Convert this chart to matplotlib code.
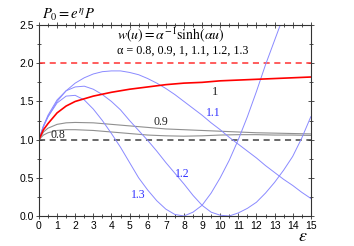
import matplotlib
matplotlib.use("Agg")
from matplotlib import pyplot as plt
from matplotlib.ticker import MultipleLocator

plt.rcParams["mathtext.fontset"] = "stix"
plt.rcParams["font.family"] = ["Liberation Sans", "DejaVu Sans"]

# values
eps_blue = [0, 0.25, 0.5, 1, 1.5, 2, 2.5, 3, 3.5, 4, 4.5, 5, 5.5, 6, 6.5, 7, 7.5, 8, 8.5, 9, 9.5,
            10, 10.5, 11, 11.5, 12, 12.5, 13, 13.5, 14, 14.5, 15]
p_11 = [1.0, 1.17, 1.3, 1.5, 1.64, 1.74, 1.81, 1.86, 1.89, 1.9, 1.9, 1.88, 1.85, 1.8, 1.74, 1.67,
        1.59, 1.5, 1.41, 1.32, 1.22, 1.13, 1.03, 0.94, 0.85, 0.76, 0.66, 0.57, 0.48, 0.4, 0.31, 0.23]
p_12 = [1.0, 1.18, 1.32, 1.52, 1.64, 1.69, 1.7, 1.66, 1.59, 1.5, 1.39, 1.25, 1.12, 0.99, 0.85, 0.7,
        0.56, 0.42, 0.27, 0.14, 0.05, 0.01, 0.0, 0.04, 0.1, 0.18, 0.3, 0.44, 0.6, 0.78, 1.02, 1.3]
p_13 = [1.0, 1.18, 1.3, 1.48, 1.57, 1.58, 1.52, 1.4, 1.25, 1.08, 0.9, 0.7, 0.5, 0.34, 0.2, 0.09,
        0.02, 0.0, 0.05, 0.14, 0.3, 0.5, 0.73, 1.0, 1.3, 1.63, 1.98, 2.3, 2.62, 2.95, 3.3, 3.6]

eps_gray = [0, 0.25, 0.5, 1, 1.5, 2, 3, 4, 5, 6, 7, 8, 9, 10, 11, 12, 13, 14, 15]
p_10 = [1.0, 1.13, 1.21, 1.35, 1.44, 1.5, 1.57, 1.62, 1.66, 1.69, 1.72, 1.74, 1.75, 1.77, 1.78,
        1.79, 1.8, 1.81, 1.82]
p_09 = [1.0, 1.1, 1.15, 1.2, 1.22, 1.225, 1.22, 1.2, 1.18, 1.16, 1.14, 1.13, 1.12, 1.11, 1.1,
        1.09, 1.085, 1.08, 1.075]
p_08 = [1.0, 1.06, 1.09, 1.12, 1.13, 1.13, 1.12, 1.1, 1.08, 1.06, 1.05, 1.045, 1.05, 1.06, 1.065,
        1.065, 1.06, 1.06, 1.055]

fig = plt.figure(figsize=(3.54, 2.46), dpi=100)
ax = fig.add_axes([0.110, 0.122, 0.768, 0.776])

blue = "#8a8aff"
ax.axhline(2.0, color="#ff3030", ls=(0, (4, 3)), lw=1.1)
ax.axhline(1.0, color="#404040", ls=(0, (4, 3)), lw=1.1)
ax.plot(eps_gray, p_08, color="#909090", lw=0.8)
ax.plot(eps_gray, p_09, color="#909090", lw=0.8)
ax.plot(eps_blue, p_11, color=blue, lw=0.7)
ax.plot(eps_blue, p_12, color=blue, lw=0.7)
ax.plot(eps_blue, p_13, color=blue, lw=0.7)
ax.plot(eps_gray, p_10, color="#ff0000", lw=1.2)

ax.set_xlim(0, 15)
ax.set_ylim(0, 2.5)
ax.xaxis.set_major_locator(MultipleLocator(1))
ax.xaxis.set_minor_locator(MultipleLocator(0.5))
ax.yaxis.set_major_locator(MultipleLocator(0.5))
ax.yaxis.set_minor_locator(MultipleLocator(0.25))
ax.set_yticklabels([f"{v:.1f}" for v in ax.get_yticks()])
ax.tick_params(which="both", direction="inout", top=True, right=True, labelsize=7.5,
               color="#333333", width=0.6, pad=1.5)
ax.tick_params(which="major", length=4)
ax.tick_params(which="minor", length=2.5)
for s in ax.spines.values():
    s.set_color("#333333")
    s.set_linewidth(0.8)

serif = ["Liberation Serif", "DejaVu Serif"]
ax.text(1.05, 1.06, "0.8", fontsize=8.5, family=serif, ha="center", va="center", color="#202020")
ax.text(6.7, 1.23, "0.9", fontsize=8.5, family=serif, ha="center", va="center", color="#202020")
ax.text(9.7, 1.63, "1", fontsize=9, family=serif, ha="center", va="center", color="#202020")
ax.text(9.6, 1.35, "1.1", fontsize=8.5, family=serif, ha="center", va="center", color="#3030ff")
ax.text(7.9, 0.55, "1.2", fontsize=8.5, family=serif, ha="center", va="center", color="#3030ff")
ax.text(5.5, 0.28, "1.3", fontsize=8.5, family=serif, ha="center", va="center", color="#3030ff")

ax.text(4.3, 2.37, r"$w(u) = \alpha^{-1}\mathrm{sinh}(\alpha u)$", fontsize=10, va="center")
ax.text(4.3, 2.16, "α = 0.8, 0.9, 1, 1.1, 1.2, 1.3", fontsize=8.7, family=serif, va="center")

fig.text(0.118, 0.94, r"$P_0 = e^{\eta}P$", fontsize=10.5, va="center")
fig.text(0.855, 0.04, r"$\varepsilon$", fontsize=13, ha="center", va="center")

fig.savefig("out.png", dpi=100)
